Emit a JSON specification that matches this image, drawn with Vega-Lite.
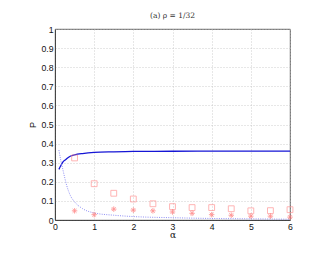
{
  "$schema": "https://vega.github.io/schema/vega-lite/v6.json",
  "autosize": {"type": "none"},
  "padding": {"left": 55, "top": 29, "right": 44, "bottom": 38},
  "width": 235,
  "height": 191,
  "background": "white",
  "title": {"text": "(a) ρ = 1/32", "font": "DejaVu Serif", "fontSize": 7.5, "fontWeight": "normal", "color": "#333", "offset": 6},
  "config": {
    "view": {"stroke": "#333", "strokeWidth": 0.8},
    "axis": {
      "labelFont": "Liberation Sans", "labelFontSize": 8.7, "labelColor": "#111",
      "titleFont": "Liberation Sans", "titleFontSize": 9, "titleFontWeight": "normal", "titleColor": "#111",
      "gridColor": "#bbb", "gridDash": [1, 2], "gridWidth": 0.7,
      "domainColor": "#333", "domainWidth": 0.8,
      "tickColor": "#333", "tickSize": 0, "labelPadding": 2,
      "labelOverlap": false, "labelFlush": false, "labelBound": false
    }
  },
  "encoding": {
    "x": {"field": "alpha", "type": "quantitative", "scale": {"domain": [0, 6], "nice": false}, "axis": {"title": "α", "values": [0,1,2,3,4,5,6], "tickCount": 7, "titleFont": "DejaVu Serif", "titlePadding": 0, "labelPadding": 2}},
    "y": {"field": "P", "type": "quantitative", "scale": {"domain": [0, 1], "nice": false}, "axis": {"title": "P", "values": [0,0.1,0.2,0.3,0.4,0.5,0.6,0.7,0.8,0.9,1], "tickCount": 11, "format": "~g", "titlePadding": 3}}
  },
  "layer": [
    {
      "data": {"values": [
        {"alpha": 0.1, "P": 0.265}, {"alpha": 0.15, "P": 0.285}, {"alpha": 0.2, "P": 0.303}, {"alpha": 0.27, "P": 0.316},
        {"alpha": 0.33, "P": 0.326}, {"alpha": 0.4, "P": 0.335}, {"alpha": 0.5, "P": 0.341}, {"alpha": 0.7, "P": 0.348},
        {"alpha": 1.0, "P": 0.354}, {"alpha": 1.5, "P": 0.357}, {"alpha": 2.0, "P": 0.359}, {"alpha": 3.0, "P": 0.36},
        {"alpha": 4.0, "P": 0.361}, {"alpha": 5.0, "P": 0.361}, {"alpha": 6.0, "P": 0.361}
      ]},
      "mark": {"type": "line", "color": "#1515d5", "strokeWidth": 1.3, "interpolate": "monotone"}
    },
    {
      "data": {"values": [
        {"alpha": 0.1, "P": 0.366}, {"alpha": 0.15, "P": 0.31}, {"alpha": 0.2, "P": 0.265}, {"alpha": 0.25, "P": 0.22},
        {"alpha": 0.3, "P": 0.18}, {"alpha": 0.4, "P": 0.125}, {"alpha": 0.5, "P": 0.095}, {"alpha": 0.7, "P": 0.06},
        {"alpha": 1.0, "P": 0.037}, {"alpha": 1.5, "P": 0.025}, {"alpha": 2.0, "P": 0.018}, {"alpha": 3.0, "P": 0.012},
        {"alpha": 4.0, "P": 0.008}, {"alpha": 5.0, "P": 0.006}, {"alpha": 6.0, "P": 0.004}
      ]},
      "mark": {"type": "line", "color": "#8f8ff5", "strokeWidth": 1, "strokeDash": [1, 1.3], "interpolate": "monotone"}
    },
    {
      "data": {"values": [
        {"alpha": 0.5, "P": 0.325}, {"alpha": 1.0, "P": 0.19}, {"alpha": 1.5, "P": 0.14}, {"alpha": 2.0, "P": 0.11},
        {"alpha": 2.5, "P": 0.085}, {"alpha": 3.0, "P": 0.07}, {"alpha": 3.5, "P": 0.065}, {"alpha": 4.0, "P": 0.065},
        {"alpha": 4.5, "P": 0.059}, {"alpha": 5.0, "P": 0.048}, {"alpha": 5.5, "P": 0.049}, {"alpha": 6.0, "P": 0.054}
      ]},
      "mark": {"type": "point", "shape": "square", "size": 34, "stroke": "#ff8a8a", "strokeWidth": 0.9, "filled": false}
    },
    {
      "data": {"values": [
        {"alpha": 0.5, "P": 0.048}, {"alpha": 1.0, "P": 0.028}, {"alpha": 1.5, "P": 0.057}, {"alpha": 2.0, "P": 0.052},
        {"alpha": 2.5, "P": 0.048}, {"alpha": 3.0, "P": 0.042}, {"alpha": 3.5, "P": 0.035}, {"alpha": 4.0, "P": 0.028},
        {"alpha": 4.5, "P": 0.025}, {"alpha": 5.0, "P": 0.02}, {"alpha": 5.5, "P": 0.02}, {"alpha": 6.0, "P": 0.015}
      ]},
      "mark": {"type": "point", "shape": "M-1,0L1,0M0,-1L0,1M-0.7,-0.7L0.7,0.7M-0.7,0.7L0.7,-0.7", "size": 30, "stroke": "#ff6a6a", "strokeWidth": 0.9, "filled": false}
    }
  ]
}
